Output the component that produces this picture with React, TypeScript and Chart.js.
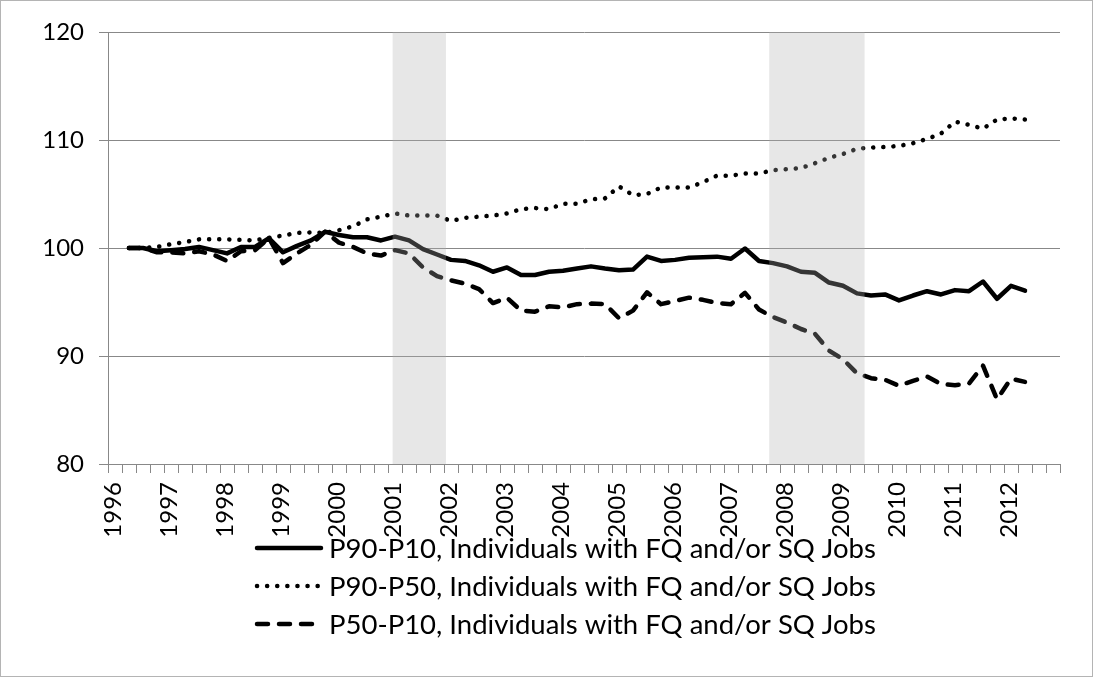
import React, { useEffect, useRef } from 'react';
import { Chart, registerables } from 'chart.js';

Chart.register(...registerables);

// ---------- data ----------
const YEARS = [1996, 1997, 1998, 1999, 2000, 2001, 2002, 2003, 2004, 2005, 2006, 2007, 2008, 2009, 2010, 2011, 2012];
const QUARTERS = ['Q1', 'Q2', 'Q3', 'Q4'];
const categories = YEARS.flatMap((y) => QUARTERS.map((q) => `${y} ${q}`));

const SERIES_LABELS = [
  'P90-P10, Individuals with FQ and/or SQ Jobs',
  'P90-P50, Individuals with FQ and/or SQ Jobs',
  'P50-P10, Individuals with FQ and/or SQ Jobs',
];

// 1996 Q1 .. 2012 Q4 (data available 1996 Q2 .. 2012 Q2)
const p90p10 = [
  null, 100.0, 100.0, 99.7,
  99.8, 99.9, 100.1, 99.8,
  99.5, 100.1, 100.1, 100.9,
  99.6, 100.2, 100.7, 101.5,
  101.2, 101.0, 101.0, 100.7,
  101.05, 100.7, 99.9, 99.4,
  98.9, 98.8, 98.4, 97.8,
  98.2, 97.5, 97.5, 97.8,
  97.9, 98.1, 98.3, 98.1,
  97.95, 98.0, 99.2, 98.8,
  98.9, 99.1, 99.15, 99.2,
  99.0, 99.95, 98.8, 98.6,
  98.3, 97.8, 97.7, 96.8,
  96.5, 95.8, 95.6, 95.7,
  95.15, 95.6, 96.0, 95.7,
  96.1, 96.0, 96.9, 95.3,
  96.5, 96.05, null, null,
];

const p90p50 = [
  null, 100.0, 100.0, 100.1,
  100.35, 100.55, 100.8, 100.8,
  100.8, 100.75, 100.7, 100.95,
  101.15, 101.4, 101.45, 101.4,
  101.65, 102.0, 102.65, 102.9,
  103.2, 103.0, 103.0, 103.0,
  102.5, 102.8, 102.9, 103.0,
  103.2, 103.6, 103.7, 103.6,
  104.1, 104.1, 104.5, 104.6,
  105.7, 104.9, 105.0, 105.6,
  105.6, 105.6, 106.1, 106.7,
  106.7, 106.9, 106.9, 107.2,
  107.3, 107.4, 107.85, 108.35,
  108.7, 109.2, 109.3, 109.35,
  109.45, 109.7, 110.1, 110.6,
  111.7, 111.4, 111.05, 111.9,
  112.0, 111.9, null, null,
];

const p50p10 = [
  null, 100.0, 100.0, 99.6,
  99.6, 99.5, 99.7, 99.4,
  98.8, 99.7, 99.8, 100.9,
  98.6, 99.5, 100.3, 101.5,
  100.5, 100.1, 99.5, 99.3,
  99.8, 99.5, 98.2, 97.4,
  97.0, 96.7, 96.2, 94.9,
  95.4, 94.2, 94.1, 94.6,
  94.5, 94.8, 94.85, 94.8,
  93.5, 94.2, 95.9, 94.8,
  95.1, 95.4, 95.2, 94.9,
  94.8, 95.85, 94.3, 93.6,
  93.1, 92.5, 92.05, 90.5,
  89.7, 88.4, 87.95, 87.8,
  87.25, 87.7, 88.1, 87.4,
  87.3, 87.45, 89.1, 86.0,
  87.9, 87.6, null, null,
];

// recession shading, in quarter units from the start of 1996 Q1
const recessionStart = [20.33, 47.23];
const recessionEnd = [24.14, 54.04];

const Y_TICKS = { min: 80, max: 120, step: 10 };

const FONT = 'Lato, "Open Sans", sans-serif';
const GRID = '#888888';

export default function App() {
  const ref = useRef<HTMLCanvasElement>(null);

  useEffect(() => {
    const canvas = ref.current;
    if (!canvas) return;

    const framePlugin = {
      id: 'frame',
      beforeDraw(chart: any) {
        const { ctx, width, height } = chart;
        ctx.save();
        ctx.fillStyle = '#ffffff';
        ctx.fillRect(0, 0, width, height);
        ctx.strokeStyle = '#b4b4b4';
        ctx.lineWidth = 1;
        ctx.strokeRect(0.5, 0.5, width - 1, height - 1);
        ctx.restore();
      },
    };

    const recessionPlugin = {
      id: 'recessions',
      afterDatasetsDraw(chart: any) {
        const { ctx, chartArea, scales } = chart;
        const xs = scales.x;
        ctx.save();
        ctx.fillStyle = 'rgba(176,176,176,0.3)';
        recessionStart.forEach((s, i) => {
          const x1 = xs.getPixelForValue(s - 0.5);
          const x2 = xs.getPixelForValue(recessionEnd[i] - 0.5);
          ctx.fillRect(x1, chartArea.top, x2 - x1, chartArea.bottom - chartArea.top);
        });
        ctx.restore();
      },
    };

    const legendPlugin = {
      id: 'customLegend',
      afterDraw(chart: any) {
        const { ctx, chartArea } = chart;
        const top = chartArea.bottom + 84;
        const gap = 38;
        const lineStart = 257;
        const lineEnd = 321;
        const textX = 329;
        ctx.save();
        ctx.font = `27.5px ${FONT}`;
        ctx.textBaseline = 'middle';
        ctx.textAlign = 'left';
        chart.data.datasets.forEach((ds: any, i: number) => {
          const y = top + i * gap;
          ctx.strokeStyle = ds.borderColor;
          ctx.lineWidth = ds.borderWidth;
          ctx.lineCap = 'round';
          ctx.setLineDash(ds.borderDash || []);
          ctx.beginPath();
          ctx.moveTo(lineStart, y);
          ctx.lineTo(lineEnd, y);
          ctx.stroke();
          ctx.setLineDash([]);
          ctx.fillStyle = '#000';
          ctx.fillText(ds.label, textX, y + 1);
        });
        ctx.restore();
      },
    };

    const mk = (label: string, data: (number | null)[], dash: number[]) => ({
      label,
      data,
      borderColor: '#000000',
      backgroundColor: '#000000',
      borderWidth: 4.5,
      borderDash: dash,
      borderCapStyle: 'round' as const,
      borderJoinStyle: 'round' as const,
      pointRadius: 0,
      pointHoverRadius: 0,
      tension: 0,
      fill: false,
      spanGaps: false,
    });

    const chart = new Chart(canvas, {
      type: 'line',
      data: {
        labels: categories,
        datasets: [
          mk(SERIES_LABELS[0], p90p10, []),
          mk(SERIES_LABELS[1], p90p50, [0.1, 10]),
          mk(SERIES_LABELS[2], p50p10, [11, 11]),
        ],
      },
      options: {
        animation: false,
        responsive: true,
        maintainAspectRatio: false,
        layout: { padding: { left: 0, top: 32, right: 33, bottom: 113 } },
        plugins: {
          legend: { display: false },
          tooltip: { enabled: false },
        },
        scales: {
          x: {
            type: 'category',
            offset: true,
            grid: {
              offset: true,
              drawOnChartArea: false,
              drawTicks: true,
              tickLength: 9,
              color: GRID,
              lineWidth: 1,
            },
            border: { display: true, color: GRID, width: 1 },
            ticks: {
              autoSkip: false,
              maxRotation: 90,
              minRotation: 90,
              padding: 9,
              labelOffset: -2,
              color: '#000',
              font: { family: FONT, size: 24 },
              callback: (_v: any, i: number) => (i % 4 === 0 ? String(YEARS[i / 4]) : ''),
            },
            afterFit: (s: any) => {
              s.height = 100;
            },
          },
          y: {
            min: Y_TICKS.min,
            max: Y_TICKS.max,
            ticks: {
              stepSize: Y_TICKS.step,
              padding: 15,
              color: '#000',
              font: { family: FONT, size: 24 },
            },
            grid: {
              color: GRID,
              lineWidth: 1,
              drawTicks: true,
              tickLength: 9,
            },
            border: { display: true, color: GRID, width: 1 },
            afterFit: (s: any) => {
              s.width = 108;
            },
          },
        },
      },
      plugins: [framePlugin, recessionPlugin, legendPlugin],
    });

    return () => chart.destroy();
  }, []);

  return (
    <div style={{ position: 'absolute', left: 0, top: 0, width: 1093, height: 677 }}>
      <canvas ref={ref} />
    </div>
  );
}
